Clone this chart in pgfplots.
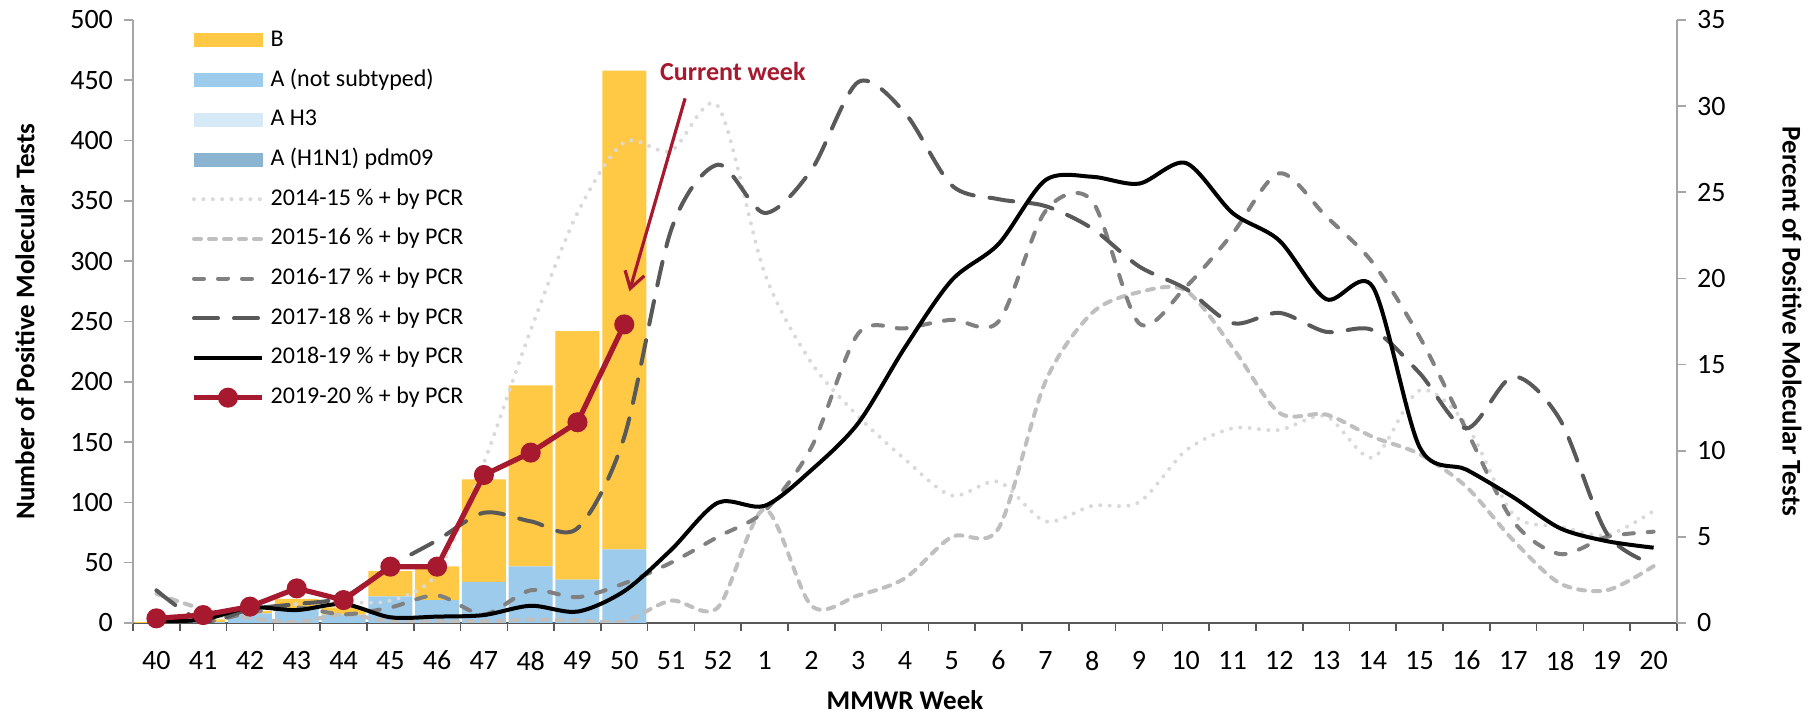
\documentclass[border=0pt]{standalone}
\usepackage{fontspec}
\setmainfont{Carlito}
\usepackage{pgfplots}
\usepackage{pgfplotstable}
\pgfplotsset{compat=1.18}
\usetikzlibrary{arrows.meta}

\definecolor{cB}{HTML}{FFC845}
\definecolor{cA}{HTML}{9DCBEB}
\definecolor{cH3}{HTML}{D6E9F7}
\definecolor{cH1}{HTML}{8AB4CF}
\definecolor{cRed}{HTML}{A6192E}
\definecolor{c1415}{HTML}{D9D9D9}
\definecolor{c1516}{HTML}{BFBFBF}
\definecolor{c1617}{HTML}{808080}
\definecolor{c1718}{HTML}{595959}
\definecolor{cXax}{HTML}{595959}
\definecolor{cYax}{HTML}{A6A6A6}

% positive molecular tests by type, weeks 40-50 (x = 0..10)
\pgfplotstableread{
x h1 h3 anot b
0 0 0 0 1
1 0 0 1 2
2 0 0 8 2
3 0 0 12 8
4 0 0 7 6
5 0 0 22 21
6 0 0 19 28
7 0 0 34 85
8 0 0 47 150
9 0 0 36 206
10 0 0 61 397
}\bars

% percent positive by season, x = 0 (week 40) .. 32 (week 20)
\pgfplotstableread{
x p1415 p1516 p1617 p1718 p1819
0 0.4 1.7 0.4 1.9 0.1
1 0.2 0.8 0.05 0.1 0.2
2 0.8 0.3 0.6 0.8 0.9
3 1.1 0.05 0.9 1.1 0.75
4 1.2 0.5 0.5 1.5 1.1
5 1.3 0.1 0.9 3.3 0.33
6 2.9 0.1 1.6 4.8 0.37
7 9.3 0.1 0.5 6.4 0.46
8 17.0 0.2 1.9 5.9 1.0
9 23.8 0.15 1.5 5.5 0.66
10 27.9 0.1 2.3 10.8 1.85
11 27.4 1.3 3.5 22.8 4.24
12 30.0 0.9 5.0 26.6 6.98
13 20.3 6.6 6.5 23.8 6.8
14 15.1 1.0 10.2 26.3 8.88
15 12.0 1.6 16.8 31.4 11.6
16 9.5 2.6 17.1 29.6 16.0
17 7.4 5.0 17.6 25.4 19.9
18 8.2 5.5 17.5 24.6 22.0
19 5.9 14.0 23.9 24.2 25.7
20 6.8 18.0 24.5 22.9 25.9
21 7.0 19.2 17.4 20.7 25.5
22 10.0 19.3 19.5 19.4 26.7
23 11.3 16.0 22.6 17.4 23.8
24 11.2 12.2 26.1 18.0 22.2
25 12.0 12.1 23.6 16.9 18.8
26 9.6 10.8 20.9 17.0 19.5
27 13.5 9.8 16.6 14.5 10.2
28 11.5 7.9 11.2 11.3 8.9
29 6.3 4.8 5.9 14.3 7.3
30 5.6 2.3 4.0 11.8 5.5
31 5.1 1.9 5.0 5.2 4.75
32 6.5 3.3 5.3 3.4 4.37
}\pct

\pgfplotstableread{
x p1920
0 0.27
1 0.46
2 0.95
3 2.01
4 1.33
5 3.27
6 3.27
7 8.59
8 9.89
9 11.65
10 17.33
}\cur

\begin{document}
\begin{tikzpicture}
\begin{axis}[name=main,
  scale only axis, width=772pt, height=301.5pt,
  xmin=-0.5, xmax=32.5, ymin=0, ymax=500,
  axis x line*=bottom, axis y line*=left,
  x axis line style={draw=cXax, line width=0.8pt, -},
  y axis line style={draw=cYax, line width=0.8pt, -},
  xtick={0,...,32},
  xticklabels={40,41,42,43,44,45,46,47,48,49,50,51,52,1,2,3,4,5,6,7,8,9,10,11,12,13,14,15,16,17,18,19,20},
  minor xtick={-0.5,0.5,...,32.5},
  major x tick style={draw=none},
  minor x tick style={draw=cXax, line width=0.8pt},
  ytick style={draw=cYax, line width=0.8pt},
  tick align=outside, major tick length=4.5pt, minor tick length=4pt,
  ytick={0,50,...,500},
  ticklabel style={font=\fontsize{14}{16}\selectfont},
  xticklabel style={yshift=-6pt},
  yticklabel style={xshift=-2pt},
  /pgf/number format/assume math mode=true,
  ylabel={Number of Positive Molecular Tests},
  xlabel={MMWR Week},
  label style={font=\bfseries\fontsize{13.5}{15}\selectfont},
  ylabel style={at={(axis description cs:0,0.5)}, anchor=center, yshift=54pt},
  xlabel style={at={(axis description cs:0.5,0)}, anchor=center, inner sep=0pt, yshift=-38.5pt},
  ybar stacked, bar width=0.94,
]
\addplot[fill=cH1, draw=none] table[x=x,y=h1]{\bars};
\addplot[fill=cH3, draw=none] table[x=x,y=h3]{\bars};
\addplot[fill=cA, draw=none] table[x=x,y=anot]{\bars};
\addplot[fill=cB, draw=none] table[x=x,y=b]{\bars};
\end{axis}

\begin{axis}[
  scale only axis, width=772pt, height=301.5pt,
  xmin=-0.5, xmax=32.5, ymin=0, ymax=35,
  axis x line=none, axis y line*=right,
  y axis line style={draw=cYax, line width=0.8pt, -},
  ytick={0,5,...,35},
  ytick style={draw=cYax, line width=0.8pt},
  tick align=outside, major tick length=4.5pt,
  ticklabel style={font=\fontsize{14}{16}\selectfont},
  yticklabel style={xshift=2pt},
  /pgf/number format/assume math mode=true,
  ylabel={Percent of Positive Molecular Tests},
  ylabel style={font=\bfseries\fontsize{13.5}{15}\selectfont,
    at={(axis description cs:1,0.5)}, anchor=center, rotate=180, yshift=57.5pt},
  legend style={at={(axis description cs:0,1)}, anchor=north west,
    xshift=29pt, yshift=-4pt, draw=none, fill=none, inner sep=0pt,
    row sep=7.85pt, column sep=3pt,
    font=\fontsize{12}{14}\selectfont,
    nodes={inner sep=0pt, text height=9pt, text depth=3pt}},
  legend cell align=left,
  legend image code/.code={\draw[mark repeat=2,mark phase=2,#1]
    plot coordinates {(0pt,0pt) (17pt,0pt) (34pt,0pt)};},
]
\addlegendimage{legend image code/.code={\fill[cB] (0pt,-3.25pt) rectangle (34pt,3.25pt);}}
\addlegendentry{B}
\addlegendimage{legend image code/.code={\fill[cA] (0pt,-3.25pt) rectangle (34pt,3.25pt);}}
\addlegendentry{A (not subtyped)}
\addlegendimage{legend image code/.code={\fill[cH3] (0pt,-3.25pt) rectangle (34pt,3.25pt);}}
\addlegendentry{A H3}
\addlegendimage{legend image code/.code={\fill[cH1] (0pt,-3.25pt) rectangle (34pt,3.25pt);}}
\addlegendentry{A (H1N1) pdm09}

\addplot[c1415, line width=2pt, line cap=round, dash pattern=on 0pt off 4.7pt, smooth] table[x=x,y=p1415]{\pct};
\addlegendentry{2014-15 \% + by PCR}
\addplot[c1516, line width=2pt, line cap=round, dash pattern=on 3.5pt off 4pt, smooth] table[x=x,y=p1516]{\pct};
\addlegendentry{2015-16 \% + by PCR}
\addplot[c1617, line width=2pt, line cap=round, dash pattern=on 5pt off 7pt, smooth] table[x=x,y=p1617]{\pct};
\addlegendentry{2016-17 \% + by PCR}
\addplot[c1718, line width=2pt, line cap=round, dash pattern=on 12pt off 8pt, smooth] table[x=x,y=p1718]{\pct};
\addlegendentry{2017-18 \% + by PCR}
\addplot[black, line width=2pt, smooth] table[x=x,y=p1819]{\pct};
\addlegendentry{2018-19 \% + by PCR}
\addplot[cRed, line width=2.6pt, mark=*, mark size=3.7pt] table[x=x,y=p1920]{\cur};
\addlegendentry{2019-20 \% + by PCR}

\draw[cRed, line width=1.6pt, -{Straight Barb[length=8pt,width=10pt]}]
  (axis cs:11.3,30.45) -- (axis cs:10.11,19.25);
\node[text=cRed, font=\bfseries\fontsize{13}{15}\selectfont, inner sep=0pt]
  at (axis cs:12.32,32.0) {Current week};
\end{axis}
\pgfresetboundingbox
\useasboundingbox ([shift={(-66.5pt,-45.5pt)}]main.south west)
  rectangle ([shift={(68pt,10pt)}]main.north east);
\end{tikzpicture}
\end{document}
